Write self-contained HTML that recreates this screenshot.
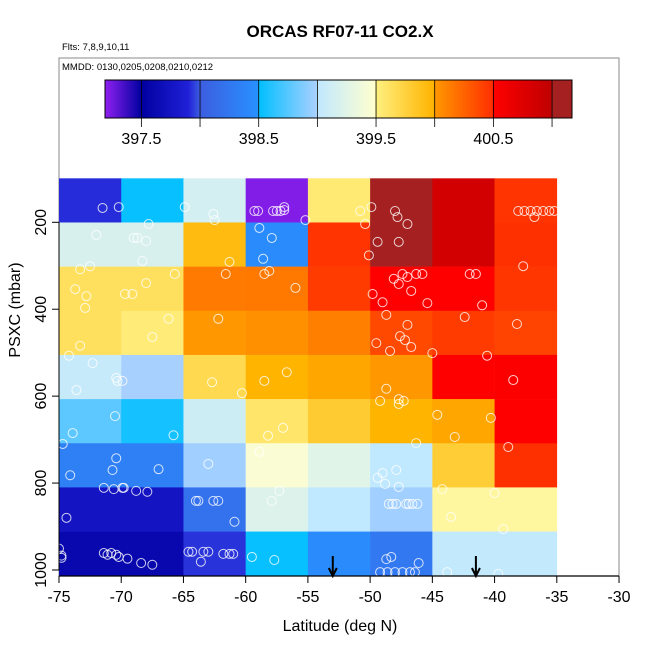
<!DOCTYPE html>
<html><head><meta charset="utf-8"><style>
html,body{margin:0;padding:0;background:#fff;}
svg{display:block;font-family:"Liberation Sans",Arial,sans-serif;}
</style></head><body>
<svg id="chart" width="650" height="650" viewBox="0 0 650 650" xmlns="http://www.w3.org/2000/svg">
<text x="340" y="37" text-anchor="middle" font-size="17" font-weight="bold">ORCAS RF07-11 CO2.X</text>
<text x="62" y="50" font-size="9.5">Flts: 7,8,9,10,11</text>
<rect x="59" y="58" width="560" height="518" fill="none" stroke="#888" stroke-width="1"/>
<text x="62" y="70" font-size="9.5">MMDD: 0130,0205,0208,0210,0212</text>
<defs><linearGradient id="cbgrad" x1="0" x2="1" y1="0" y2="0"></linearGradient></defs>
<g id="colorbar"></g>
<g id="cells"></g>
<g id="points"></g>
<g id="arrows"></g>
<g id="axes"></g>
<text x="340" y="631" text-anchor="middle" font-size="16">Latitude (deg N)</text>
<text x="0" y="0" transform="translate(20,310) rotate(-90)" text-anchor="middle" font-size="16">PSXC (mbar)</text>
</svg>
<script>
// ---- data ----
const latEdges = [-75,-70,-65,-60,-55,-50,-45,-40,-35];
const pressEdges = [98.8,200.4,302,403.6,505.2,606.8,708.4,810,911.6,1013.6];
const cellValues = [
 [397.92,398.52,399.15,397.22,399.55,401.05,400.85,400.47],
 [399.18,399.18,399.93,398.45,400.47,401.05,400.85,400.49],
 [399.63,399.63,400.14,400.15,400.44,400.5,400.5,400.46],
 [399.63,399.53,400.0,400.04,400.12,400.37,400.44,400.4],
 [399.05,398.99,399.68,399.99,399.995,400.0,400.5,400.52],
 [398.77,398.56,399.1,399.58,399.8,399.99,399.995,400.5],
 [398.33,398.33,398.97,399.45,399.25,399.0,399.78,400.49],
 [397.75,397.75,398.2,399.22,399.0,398.97,399.496,399.496],
 [397.6,397.6,397.93,398.52,398.45,398.25,399.02,399.02]
];
const pointLat = [-71.5,-70.2,-64.9,-62.6,-62.5,-59.3,-59.0,-57.8,-57.5,-57.2,-56.9,-56.9,-55.2,-50.8,-49.9,-50.4,-48.0,-47.8,-47.0,-49.4,-47.7,-50.1,
 -38.1,-37.6,-37.1,-36.6,-36.1,-35.6,-35.2,-36.8,-37.7,
 -72.0,-69.0,-68.7,-68.0,-67.8,-68.3,-61.3,-61.6,-58.5,-58.1,-56.0,-58.9,-57.9,-58.6,-62.2,
 -47.4,-48.1,-47.0,-47.7,-46.3,-45.8,-46.7,-49.8,-49.0,-45.4,-42.0,-41.5,-41.0,-48.7,-42.4,-47.0,-47.6,-47.2,-46.7,-49.5,-48.4,-45.0,-40.6,
 -38.2,-38.5,-44.6,-40.3,-43.2,-38.9,-44.2,-40.0,-43.5,-39.3,-43.8,-39.7,
 -62.7,-60.3,-58.5,-56.7,-48.7,-49.2,-47.7,-47.3,-47.7,-58.2,-57.0,-58.9,-46.3,-63.0,-49.4,-49.0,-47.9,-48.8,-47.7,-57.3,-57.9,
 -64.0,-63.8,-62.6,-62.2,-60.9,-48.5,-48.2,-47.9,-47.1,-46.9,-46.6,-46.2,
 -64.6,-64.3,-63.4,-63.0,-63.6,-61.8,-61.3,-61.0,-59.5,-57.7,-48.3,-48.7,-46.1,-49.2,-48.6,-48.0,-47.4,-46.8,-46.4,
 -73.3,-72.5,-65.7,-73.7,-72.8,-69.7,-69.1,-68.0,-72.9,-66.2,-67.5,-73.3,-74.2,-72.3,-70.4,-70.3,-69.9,-73.6,-70.5,-73.9,-74.7,-65.8,-70.4,-70.7,-67.0,-74.1,
 -71.4,-70.6,-69.9,-69.8,-68.8,-67.9,-74.4,-75.0,-74.8,-74.8,-71.4,-71.1,-70.8,-70.4,-70.2,-69.5,-68.4,-67.5];
const pointPress = [167,165,165,181,195,174,174,174,174,174,172,165,195,174,165,204,174,188,204,245,245,276,
 174,174,174,174,174,174,174,188,301,
 229,236,236,243,204,289,291,319,319,312,351,213,236,284,422,
 319,330,326,342,319,319,358,365,384,386,319,319,391,413,418,436,462,471,487,478,496,501,507,
 434,563,643,650,694,717,814,823,878,906,1005,1009,
 568,593,565,545,583,611,607,611,618,691,673,728,708,756,788,777,770,802,809,818,841,
 841,841,841,841,889,848,848,848,848,848,848,848,
 958,958,958,958,981,963,963,963,970,977,970,975,984,1005,1005,1005,1005,1005,1005,
 308,301,319,354,370,365,365,340,397,422,464,484,507,524,558,565,565,586,646,685,710,690,743,770,768,782,
 811,814,811,811,818,820,880,951,967,972,961,965,961,965,970,974,984,988];
const arrowLats = [-53,-41.5];
const xTicks = [-75,-70,-65,-60,-55,-50,-45,-40,-35,-30];
const yTicks = [200,400,600,800,1000];
const cbTicks = [397.5,398,398.5,399,399.5,400,400.5,401];
const cbLabels = ["397.5","398.5","399.5","400.5"];
const cbMin = 397.19, cbMax = 401.17;
const cmapStops = [[397.19,"#9020f0"],[397.5,"#0000a0"],[397.9,"#2020d8"],[398.0,"#3c5ee0"],[398.49,"#2890ff"],[398.5,"#00bfff"],[398.99,"#a8d0ff"],[399.0,"#c0e8ff"],[399.49,"#ffffd0"],[399.5,"#fff080"],[399.99,"#ffb400"],[400.0,"#ff9800"],[400.49,"#ff3000"],[400.5,"#ff0000"],[400.99,"#c00000"],[401.0,"#a52020"],[401.17,"#a52020"]];

// ---- scales ----
const X = lat => 59 + (lat + 75) * 12.445;
const Y = p => 222.3 + (p - 200) * 0.4346;
const CB = v => 105 + (v - cbMin) / (cbMax - cbMin) * 467;
function hex2rgb(h){return [parseInt(h.substr(1,2),16),parseInt(h.substr(3,2),16),parseInt(h.substr(5,2),16)];}
function cmap(v){
  if(v<=cmapStops[0][0]) return cmapStops[0][1];
  for(let i=1;i<cmapStops.length;i++){
    if(v<=cmapStops[i][0]){
      const a=cmapStops[i-1],b=cmapStops[i];const t=(v-a[0])/(b[0]-a[0]);
      const ca=hex2rgb(a[1]),cb=hex2rgb(b[1]);
      return "rgb("+ca.map((c,k)=>Math.round(c+(cb[k]-c)*t)).join(",")+")";
    }
  }
  return cmapStops[cmapStops.length-1][1];
}
const NS="http://www.w3.org/2000/svg";
function mk(tag,attrs,parent){const e=document.createElementNS(NS,tag);for(const k in attrs)e.setAttribute(k,attrs[k]);parent.appendChild(e);return e;}

// colorbar
const grad=document.getElementById('cbgrad');
cmapStops.forEach(s=>{mk('stop',{offset:((s[0]-cbMin)/(cbMax-cbMin)).toFixed(4),'stop-color':s[1]},grad);});
const cbg=document.getElementById('colorbar');
const cbr=mk('rect',{x:105,y:80,width:467,height:38,fill:'url(#cbgrad)',stroke:'#000','stroke-width':1},cbg);


cbTicks.forEach(t=>{
  const l=mk('line',{x1:CB(t),x2:CB(t),y1:80,y2:127,stroke:'#000','stroke-width':0.8},cbg);
  
  
});
cbLabels.forEach(s=>{
  const t=mk('text',{x:CB(parseFloat(s)),y:144,'text-anchor':'middle','font-size':16},cbg);t.textContent=s;
  
  
});

// cells
const cg=document.getElementById('cells');
cellValues.forEach((row,r)=>row.forEach((v,c)=>{
  const x0=X(latEdges[c]),x1=X(latEdges[c+1]),y0=Y(pressEdges[r]),y1=Y(pressEdges[r+1]);
  const rc=mk('rect',{x:x0,y:y0,width:x1-x0+0.3,height:y1-y0+0.3,fill:cmap(v)},cg);
  
  
}));

// points
const pg=document.getElementById('points');
pointLat.forEach((la,i)=>{
  const c=mk('circle',{cx:X(la),cy:Y(pointPress[i]),r:4.5,fill:'none',stroke:'#fff','stroke-opacity':0.8,'stroke-width':1},pg);
  
  
});

// arrows
const ag=document.getElementById('arrows');
arrowLats.forEach(la=>{
  const x=X(la);
  const g=mk('path',{d:`M${x},556 L${x},576 M${x-4},568 L${x},576 L${x+4},568`,stroke:'#000','stroke-width':2,fill:'none'},ag);
  
  
});

// axes
const axg=document.getElementById('axes');
const xa=mk('line',{x1:X(-75),x2:X(-30),y1:576,y2:576,stroke:'#000','stroke-width':1.2},axg);


xTicks.forEach(t=>{
  const l=mk('line',{x1:X(t),x2:X(t),y1:576,y2:583,stroke:'#000'},axg);
  
  
  const tx=mk('text',{x:X(t),y:602,'text-anchor':'middle','font-size':16},axg);tx.textContent=t;
  
  
});
const ya=mk('line',{x1:59,x2:59,y1:Y(200),y2:Y(1000),stroke:'#000','stroke-width':1},axg);


yTicks.forEach(t=>{
  const l=mk('line',{x1:52,x2:59,y1:Y(t),y2:Y(t),stroke:'#000'},axg);
  
  
  const tx=mk('text',{x:0,y:0,transform:`translate(46,${Y(t)}) rotate(-90)`,'text-anchor':'middle','font-size':16},axg);tx.textContent=t;
  
  
});
</script>
</body></html>
